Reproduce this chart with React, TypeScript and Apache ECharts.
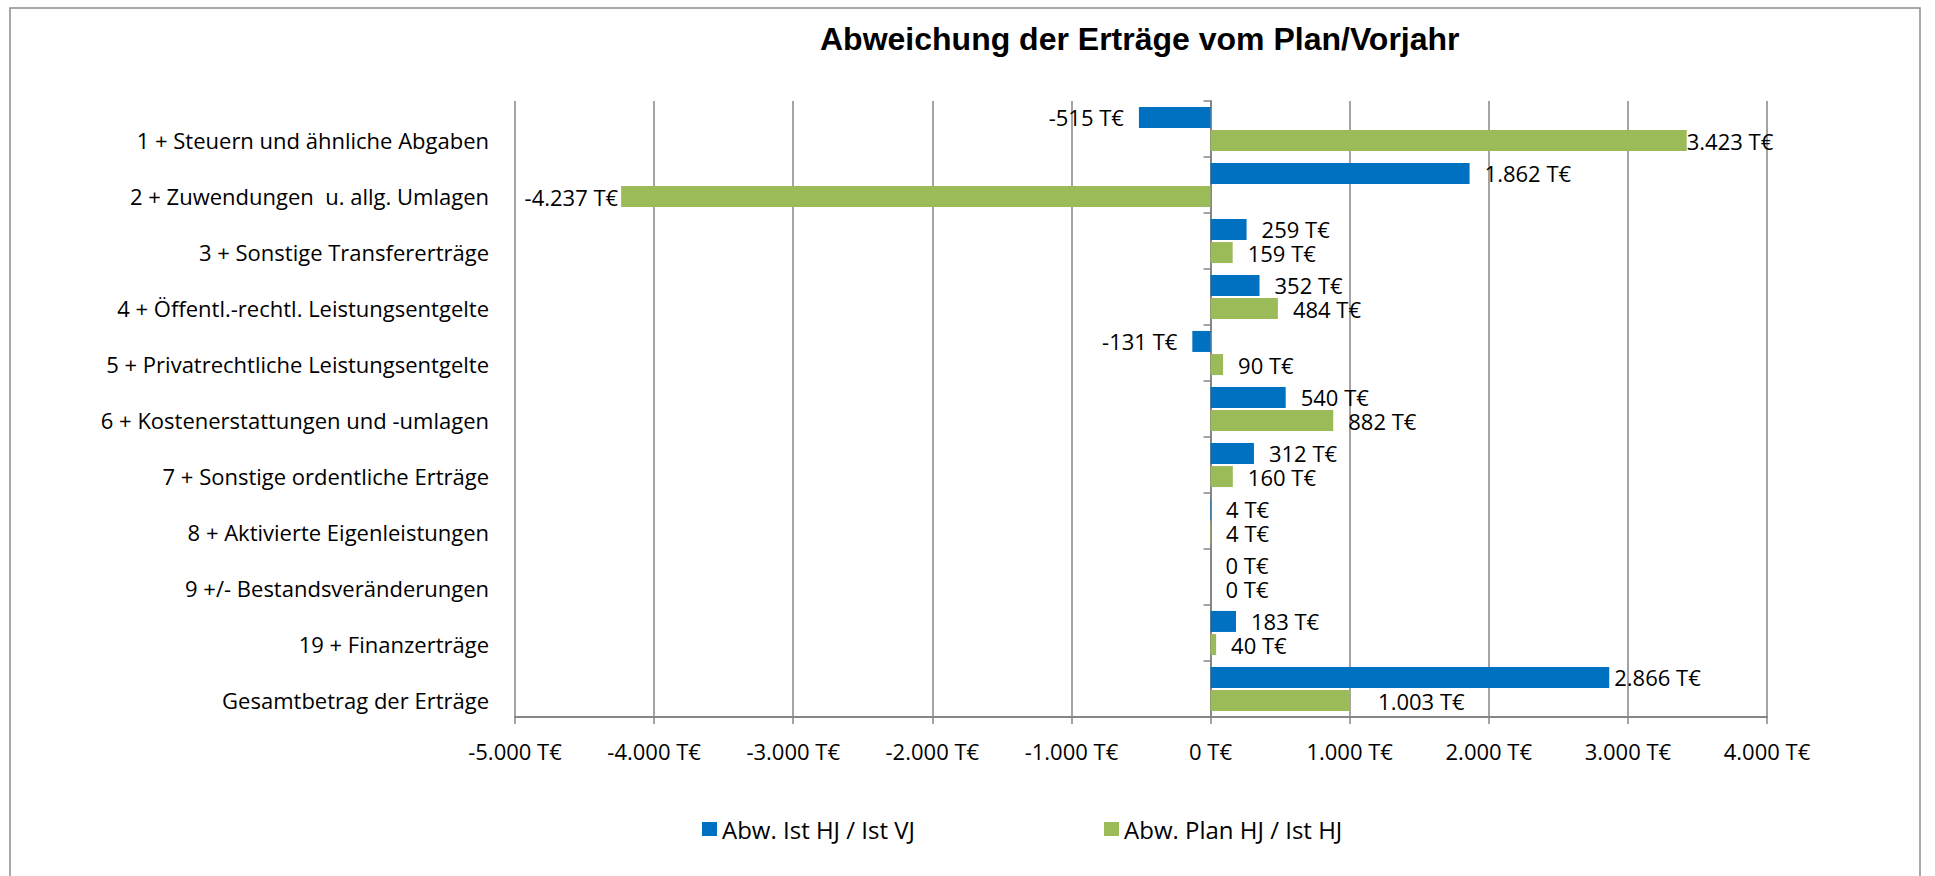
import React, { useEffect, useRef } from "react";
import * as echarts from "echarts";

const categories = [
  "1 + Steuern und ähnliche Abgaben",
  "2 + Zuwendungen  u. allg. Umlagen",
  "3 + Sonstige Transfererträge",
  "4 + Öffentl.-rechtl. Leistungsentgelte",
  "5 + Privatrechtliche Leistungsentgelte",
  "6 + Kostenerstattungen und -umlagen",
  "7 + Sonstige ordentliche Erträge",
  "8 + Aktivierte Eigenleistungen",
  "9 +/- Bestandsveränderungen",
  "19 + Finanzerträge",
  "Gesamtbetrag der Erträge",
];

const seriesNames = ["Abw. Ist HJ / Ist VJ", "Abw. Plan HJ / Ist HJ"];

// Abw. Ist HJ / Ist VJ
const istVsVj = [-515, 1862, 259, 352, -131, 540, 312, 4, 0, 183, 2866];
// Abw. Plan HJ / Ist HJ
const planVsIst = [3423, -4237, 159, 484, 90, 882, 160, 4, 0, 40, 1003];

// label distances (style, per bar)
const distBlue = [15, 15, 15, 15, 15, 15, 15, 15, 15, 15, 5];
const distGreen = [0, 3, 15, 15, 15, 15, 15, 15, 15, 15, 28];

const xMin = -5000;
const xMax = 4000;
const xInterval = 1000;

const COLORS = ["#0070C0", "#9BBB59"];
const FONT = "'Open Sans', 'Noto Sans', sans-serif";
const FS = 22;

function fmt(v: number): string {
  const sign = v < 0 ? "-" : "";
  const s = Math.abs(Math.round(v)).toString();
  const withDots = s.replace(/\B(?=(\d{3})+(?!\d))/g, ".");
  return sign + withDots + " T€";
}

function buildData(values: number[], dists: number[]) {
  return values.map((v, i) => ({
    value: v,
    label: {
      position: v < 0 ? "left" : "right",
      distance: dists[i],
    },
  }));
}

export default function App() {
  const ref = useRef<HTMLDivElement>(null);

  useEffect(() => {
    if (!ref.current) return;
    const chart = echarts.init(ref.current, null, { renderer: "svg" });
    const gridColor = "#868686";
    const labelCommon = {
      show: true,
      fontFamily: FONT,
      fontSize: FS,
      lineHeight: 20,
      color: "#000",
      formatter: (p: any) => fmt(p.value),
    };
    chart.setOption({
      animation: false,
      backgroundColor: "#fff",
      title: {
        text: "Abweichung der Erträge vom Plan/Vorjahr",
        left: 815,
        top: 18,
        textStyle: {
          fontFamily: "'Liberation Sans', Arial, sans-serif",
          fontWeight: "bold",
          fontSize: 32,
          color: "#000",
        },
      },
      legend: {
        data: seriesNames,
        left: 697,
        top: 812,
        itemWidth: 15,
        itemHeight: 14,
        itemGap: 189,
        icon: "rect",
        textStyle: { fontFamily: FONT, fontSize: 24, color: "#000" },
      },
      grid: {
        left: 515,
        right: 168,
        top: 101,
        bottom: 159,
        containLabel: false,
      },
      xAxis: {
        type: "value",
        min: xMin,
        max: xMax,
        interval: xInterval,
        axisLine: {
          show: true,
          onZero: false,
          lineStyle: { color: gridColor, width: 2 },
        },
        axisTick: {
          show: true,
          length: 7,
          lineStyle: { color: gridColor, width: 1.5 },
        },
        axisLabel: {
          fontFamily: FONT,
          fontSize: FS,
          color: "#000",
          margin: 23,
          formatter: (v: number) => fmt(v),
        },
        splitLine: {
          show: true,
          lineStyle: { color: gridColor, width: 1.5 },
        },
      },
      yAxis: [
        {
          type: "category",
          data: categories,
          inverse: true,
          axisLine: { show: false, onZero: false },
          axisTick: { show: false },
          axisLabel: {
            fontFamily: FONT,
            fontSize: FS,
            color: "#000",
            margin: 26,
            verticalAlign: "top",
            lineHeight: 21,
          },
        },
        {
          type: "category",
          data: categories,
          inverse: true,
          position: "left",
          axisLine: {
            show: true,
            onZero: true,
            lineStyle: { color: gridColor, width: 2 },
          },
          axisTick: {
            show: true,
            length: 7,
            lineStyle: { color: gridColor, width: 1.5 },
          },
          axisLabel: { show: false },
          splitLine: { show: false },
        },
      ],
      graphic: [
        {
          type: "rect",
          z: -10,
          shape: { x: 10, y: 8, width: 1910, height: 900 },
          style: { fill: "none", stroke: "#8c8c8c", lineWidth: 1.5 },
        },
      ],
      series: [
        {
          name: seriesNames[0],
          type: "bar",
          yAxisIndex: 0,
          data: buildData(istVsVj, distBlue),
          barWidth: 21,
          barGap: "10%",
          itemStyle: { color: COLORS[0] },
          label: labelCommon,
        },
        {
          name: seriesNames[1],
          type: "bar",
          yAxisIndex: 0,
          data: buildData(planVsIst, distGreen),
          barWidth: 21,
          barGap: "10%",
          itemStyle: { color: COLORS[1] },
          label: labelCommon,
        },
      ],
    });
    return () => chart.dispose();
  }, []);

  return (
    <div
      ref={ref}
      style={{ position: "absolute", left: 0, top: 0, width: 1935, height: 876 }}
    />
  );
}
